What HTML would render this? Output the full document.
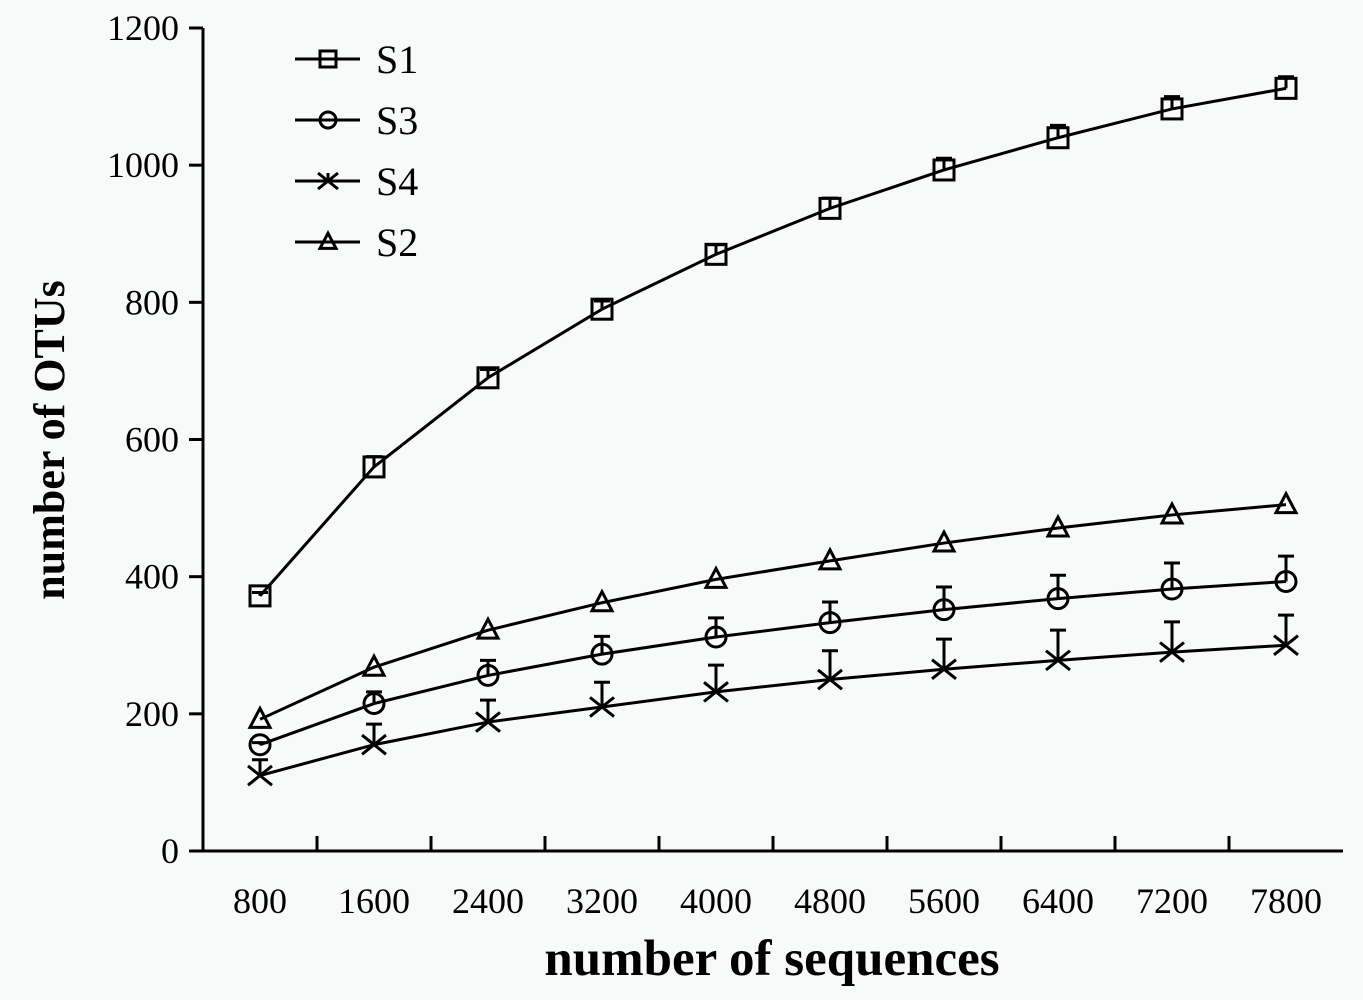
<!DOCTYPE html>
<html><head><meta charset="utf-8"><style>
html,body{margin:0;padding:0;background:#f8fafa;}
svg{display:block;font-family:"Liberation Serif",serif;}
</style></head><body>
<svg id="chart" width="1363" height="1000" viewBox="0 0 1363 1000">
<rect width="1363" height="1000" fill="#f8fafa"/>
<g id="axes"></g><g id="series"></g><g id="legend"></g>
<text x="772" y="975" text-anchor="middle" font-size="51" font-weight="bold">number of sequences</text>
<text transform="translate(64,440) rotate(-90)" text-anchor="middle" font-size="44" font-weight="bold">number of OTUs</text>
</svg>
<script>
const categories=["800","1600","2400","3200","4000","4800","5600","6400","7200","7800"];
const yTicks=[0,200,400,600,800,1000,1200];
const seriesNames=["S1","S3","S4","S2"];
const s1=[372,560,690,790,870,937,993,1040,1082,1112];
const s1Err=[5,15,12,12,14,15,17,18,18,17];
const s2=[192,268,322,362,396,423,449,471,490,505];
const s2Err=[0,0,0,0,0,0,0,0,0,0];
const s3=[155,215,256,287,312,333,352,368,382,393];
const s3Err=[3,17,22,26,28,30,33,34,38,37];
const s4=[110,155,188,210,232,250,265,278,290,300];
const s4Err=[23,30,32,36,39,42,44,44,44,44];
const NS="http://www.w3.org/2000/svg";
const X0=203,Y0=851,BW=114,YT=28;
const xs=i=>X0+BW*(i+0.5);
const ys=v=>Y0-(v/1200)*(Y0-YT);
function mk(tag,attrs,parent){const e=document.createElementNS(NS,tag);for(const k in attrs)e.setAttribute(k,attrs[k]);parent.appendChild(e);return e;}
const axes=document.getElementById('axes');
let e=mk('line',{x1:X0,y1:YT,x2:X0,y2:Y0,stroke:'#000','stroke-width':3},axes);


e=mk('line',{x1:X0-14,y1:Y0,x2:X0+BW*categories.length,y2:Y0,stroke:'#000','stroke-width':3},axes);


yTicks.forEach(t=>{
 const y=ys(t);
 let l=mk('line',{x1:X0-14,y1:y,x2:X0,y2:y,stroke:'#000','stroke-width':3},axes);
 
 
 let tx=mk('text',{x:X0-24,y:y+12,'text-anchor':'end','font-size':36},axes);tx.textContent=t;
 
 
});
categories.forEach((c,i)=>{
 if(i>0){let l=mk('line',{x1:X0+BW*i,y1:Y0-15,x2:X0+BW*i,y2:Y0,stroke:'#000','stroke-width':3},axes);
 
 }
 let tx=mk('text',{x:xs(i),y:913,'text-anchor':'middle','font-size':36},axes);tx.textContent=c;
 
 
});
function marker(type,x,y,s,g){
 const a={fill:'none',stroke:'#000','stroke-width':3};let m;
 if(type==='square')m=mk('rect',Object.assign({x:x-s,y:y-s,width:2*s,height:2*s},a),g);
 else if(type==='circle')m=mk('circle',Object.assign({cx:x,cy:y,r:s},a),g);
 else if(type==='tri')m=mk('polygon',Object.assign({points:`${x},${y-s*1.1} ${x-s},${y+s*0.8} ${x+s},${y+s*0.8}`},a),g);
 else m=mk('path',Object.assign({d:`M${x-s} ${y-s*0.8}L${x+s} ${y+s*0.8}M${x+s} ${y-s*0.8}L${x-s} ${y+s*0.8}M${x} ${y-s*0.8}L${x} ${y}`},a),g);
 return m;
}
const defs=[["S1",s1,s1Err,'square'],["S2",s2,s2Err,'tri'],["S3",s3,s3Err,'circle'],["S4",s4,s4Err,'x']];
const sg=document.getElementById('series');
defs.forEach(([n,vals,errs,type])=>{
 const g=mk('g',{},sg);
 
 
 const p=mk('polyline',{points:vals.map((v,i)=>xs(i)+','+ys(v)).join(' '),fill:'none',stroke:'#000','stroke-width':3},g);
 
 
 vals.forEach((v,i)=>{
  if(errs[i]>0){const eb=mk('path',{d:`M${xs(i)} ${ys(v)}V${ys(v+errs[i])}M${xs(i)-8} ${ys(v+errs[i])}H${xs(i)+8}`,stroke:'#000','stroke-width':3,fill:'none'},g);
  
  }
  const s=type==='x'?12:10;
  const m=marker(type,xs(i),ys(v),s,g);
  
  
 });
});
const lg=document.getElementById('legend');
const legType={S1:'square',S3:'circle',S4:'x',S2:'tri'};
seriesNames.forEach((n,i)=>{
 const y=59+i*61;
 const g=mk('g',{},lg);
 
 
 mk('line',{x1:295,y1:y,x2:360,y2:y,stroke:'#000','stroke-width':3},g);
 marker(legType[n],328,y,legType[n]==='x'?10:8,g);
 const t=mk('text',{x:376,y:y+14,'font-size':40},g);t.textContent=n;
});
</script>
</body></html>
